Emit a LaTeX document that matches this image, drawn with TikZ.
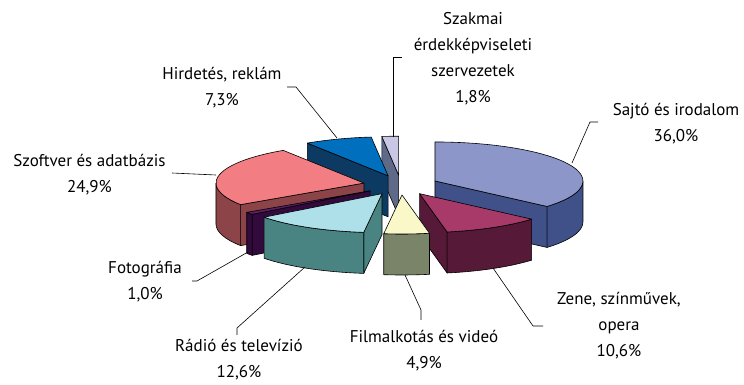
\documentclass[tikz,border=0pt]{standalone}
\usepackage{fontspec}
\setmainfont{PT Sans}
\begin{document}
\begin{tikzpicture}[x=1pt,y=1pt,
  face/.style={draw=black,line width=0.6pt,line join=round},
  lead/.style={draw=black,line width=0.6pt},
  lbl/.style={align=center,inner sep=0pt,font=\fontsize{17}{26}\selectfont}]
\definecolor{sajT}{RGB}{140,150,200}\definecolor{sajS}{RGB}{64,80,136}
\definecolor{zenT}{RGB}{168,58,106}\definecolor{zenS}{RGB}{86,26,56}
\definecolor{filT}{RGB}{250,248,200}\definecolor{filS}{RGB}{122,132,104}
\definecolor{radT}{RGB}{174,224,234}\definecolor{radS}{RGB}{74,132,130}
\definecolor{fotT}{RGB}{92,30,102}\definecolor{fotS}{RGB}{50,10,60}
\definecolor{szoT}{RGB}{242,126,132}\definecolor{szoS}{RGB}{140,68,72}
\definecolor{hirT}{RGB}{0,112,190}\definecolor{hirS}{RGB}{12,58,98}
\definecolor{szaT}{RGB}{200,200,230}\definecolor{szaS}{RGB}{94,106,136}
\fill[white] (0,0) rectangle (744,385);
\useasboundingbox (0,0) rectangle (744,385);
\def\cx{400.8}\def\cy{199.9}\def\rx{148}\def\ry{39}\def\hh{41}\def\ex{37.6}\def\ey{9.9}
\newcommand\setslice[2]{\pgfmathsetmacro\slm{(#1+#2)/2}\pgfmathsetmacro\slx{\cx+\ex*cos(\slm)}\pgfmathsetmacro\sly{\cy+\ey*sin(\slm)}}
\newcommand\topface[3]{\filldraw[face,fill=#3] (\slx,\sly) -- ++({\rx*cos(#1)},{\ry*sin(#1)}) arc[start angle=#1,end angle=#2,x radius=\rx,y radius=\ry] -- cycle;}
\newcommand\outerface[3]{\filldraw[face,fill=#3] ({\slx+\rx*cos(#1)},{\sly+\ry*sin(#1)}) arc[start angle=#1,end angle=#2,x radius=\rx,y radius=\ry] -- ++(0,-\hh) arc[start angle=#2,end angle=#1,x radius=\rx,y radius=\ry] -- cycle;}
\newcommand\radface[2]{\filldraw[face,fill=#2] (\slx,\sly) -- ++({\rx*cos(#1)},{\ry*sin(#1)}) -- ++(0,-\hh) -- (\slx,{\sly-\hh}) -- cycle;}
% Szakmai
\setslice{-270}{-263.461}
\radface{-263.461}{szaS}
\topface{-270}{-263.461}{szaT}
% Hirdetes
\setslice{-263.461}{-236.942}
\radface{-236.942}{hirS}
\topface{-263.461}{-236.942}{hirT}
% Sajto
\setslice{-40.777}{90}
\radface{-40.777}{sajS}
\outerface{-40.777}{0}{sajS}
\topface{-40.777}{90}{sajT}
% Szoftver
\setslice{-236.942}{-146.488}
\radface{-146.488}{szoS}
\outerface{-180}{-146.488}{szoS}
\topface{-236.942}{-146.488}{szoT}
% Foto
\setslice{-146.488}{-142.855}
\radface{-142.855}{fotS}
\outerface{-146.488}{-142.855}{fotS}
\topface{-146.488}{-142.855}{fotT}
% Radio
\setslice{-142.855}{-97.083}
\radface{-97.083}{radS}
\outerface{-142.855}{-97.083}{radS}
\topface{-142.855}{-97.083}{radT}
% Zene
\setslice{-79.283}{-40.777}
\radface{-79.283}{zenS}
\outerface{-79.283}{-40.777}{zenS}
\topface{-79.283}{-40.777}{zenT}
% Film
\setslice{-97.083}{-79.283}
\outerface{-97.083}{-79.283}{filS}
\topface{-97.083}{-79.283}{filT}
% labels
\node[lbl] (hir) at (222,297.5) {Hirdetés, reklám\\7,3\%};
\node[lbl] (szo) at (89.5,210.5) {Szoftver és adatbázis\\24,9\%};
\node[lbl] (sza) at (473,326) {Szakmai\\érdekképviseleti\\szervezetek\\1,8\%};
\node[lbl] (saj) at (676,261.5) {Sajtó és irodalom\\36,0\%};
\node[lbl] (fot) at (145,103.5) {Fotográfia\\1,0\%};
\node[lbl] (rad) at (239,25) {Rádió és televízió\\12,6\%};
\node[lbl] (fil) at (424,34.5) {Filmalkotás és videó\\4,9\%};
\node[lbl] (zen) at (619,59) {Zene, színművek,\\opera\\10,6\%};
% leader lines
\coordinate (hirA) at (287,298);\coordinate (hirB) at (296,298);\coordinate (hirC) at (337,247);
\coordinate (szoA) at (172,212);\coordinate (szoC) at (216,210);
\coordinate (szaA) at (402,328);\coordinate (szaB) at (393,328);\coordinate (szaC) at (393,248);
\coordinate (sajA) at (598,263);\coordinate (sajB) at (590,263);\coordinate (sajC) at (572,222);
\coordinate (fotA) at (192,104);\coordinate (fotB) at (197,104);\coordinate (fotC) at (248,133);
\coordinate (radA) at (237,50);\coordinate (radB) at (237,57);\coordinate (radC) at (305,118);
\coordinate (filA) at (421,65);\coordinate (filB) at (421,75);\coordinate (filC) at (405,110);
\coordinate (zenA) at (543,59);\coordinate (zenB) at (533,59);\coordinate (zenC) at (493,117);
\draw[lead] (hirA) -- (hirB) -- (hirC);
\draw[lead] (szoA) -- (szoC);
\draw[lead] (szaA) -- (szaB) -- (szaC);
\draw[lead] (sajA) -- (sajB) -- (sajC);
\draw[lead] (fotA) -- (fotB) -- (fotC);
\draw[lead] (radA) -- (radB) -- (radC);
\draw[lead] (filA) -- (filB) -- (filC);
\draw[lead] (zenA) -- (zenB) -- (zenC);
\end{tikzpicture}
\end{document}
